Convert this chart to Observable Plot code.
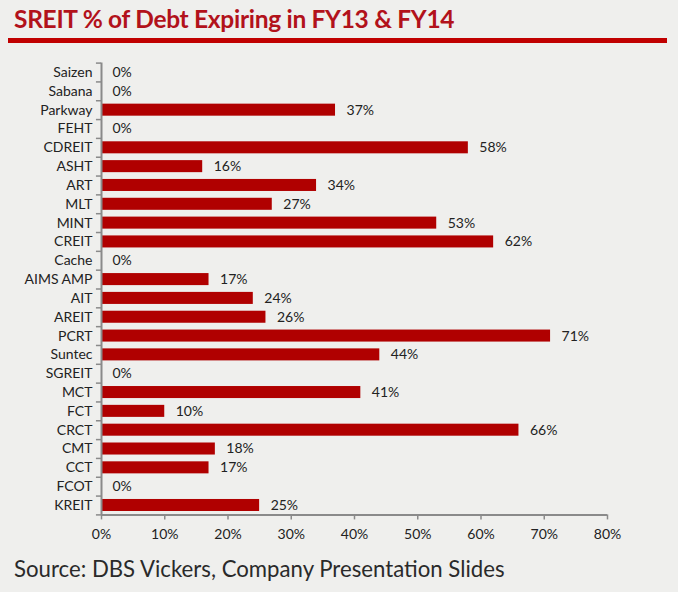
<!DOCTYPE html>
<html><head><meta charset="utf-8">
<script src="https://cdn.jsdelivr.net/npm/d3@7"></script>
<script src="https://cdn.jsdelivr.net/npm/@observablehq/plot@0.6"></script>
<style>
html,body{margin:0;padding:0;background:#efefed;width:678px;height:592px;overflow:hidden;font-family:Lato,"Open Sans",sans-serif;}
#title{position:absolute;left:14px;top:4px;font-weight:bold;font-size:24.5px;color:#b2121b;letter-spacing:-0.3px;}
#rule{position:absolute;left:8px;top:38px;width:659px;height:5px;background:#c00000;}
#chart{position:absolute;left:0;top:50px;}
#source{position:absolute;left:14px;top:555px;font-size:22.2px;color:#2a2a2a;}
</style></head>
<body>
<div id="title">SREIT % of Debt Expiring in FY13 &amp; FY14</div>
<div id="rule"></div>
<div id="chart"></div>
<div id="source">Source: DBS Vickers, Company Presentation Slides</div>
<script>
const categories = ["Saizen","Sabana","Parkway","FEHT","CDREIT","ASHT","ART","MLT","MINT","CREIT","Cache","AIMS AMP","AIT","AREIT","PCRT","Suntec","SGREIT","MCT","FCT","CRCT","CMT","CCT","FCOT","KREIT"];
const values = [0,0,37,0,58,16,34,27,53,62,0,17,24,26,71,44,0,41,10,66,18,17,0,25];
const xTicks = [0,10,20,30,40,50,60,70,80];

const data = categories.map((c,i)=>({name:c, value:values[i]}));
const H = 500, mTop = 12.6, mBottom = 35.6;
const step = (H - mTop - mBottom) / categories.length;

const plot = Plot.plot({
  width: 678, height: H,
  marginLeft: 101, marginRight: 71, marginTop: mTop, marginBottom: mBottom,
  style: {background: "transparent", fontFamily: "Lato, 'Open Sans', sans-serif", fontSize: "14px", color: "#222"},
  x: {domain: [0, 80], ticks: xTicks, tickFormat: d => d + "%", label: null},
  y: {domain: categories, padding: 0, round: false, label: null},
  marks: [
    Plot.barX(data, {x: "value", y: "name", fill: "#b00000", insetTop: 3.4, insetBottom: 3.4}),
    Plot.text(data, {x: "value", y: "name", text: d => d.value + "%", textAnchor: "start", dx: 11, fill: "#222", fontSize: 14}),
    Plot.axisY({tickSize: 0, tickPadding: 9, fontSize: 14, fill: "#222", label: null}),
    Plot.axisX({ticks: xTicks, tickFormat: d => d + "%", tickSize: 5, tickPadding: 9, fontSize: 14, fill: "#222", stroke: "#8a8a8a", strokeWidth: 1.5, label: null}),
    Plot.ruleY(categories, {y: d => d, x1: -0.8, x2: 0, dy: -step/2, stroke: "#8a8a8a", strokeWidth: 1.5}),
    Plot.ruleY([categories[categories.length-1]], {y: d => d, x1: -0.8, x2: 0, dy: step/2, stroke: "#8a8a8a", strokeWidth: 1.5}),
    Plot.ruleX([0], {stroke: "#8a8a8a", strokeWidth: 2}),
    Plot.ruleY([categories[categories.length-1]], {y: d => d, x1: 0, x2: 80, dy: step/2, stroke: "#8a8a8a", strokeWidth: 2})
  ]
});
document.getElementById("chart").appendChild(plot);
</script>
</body></html>
